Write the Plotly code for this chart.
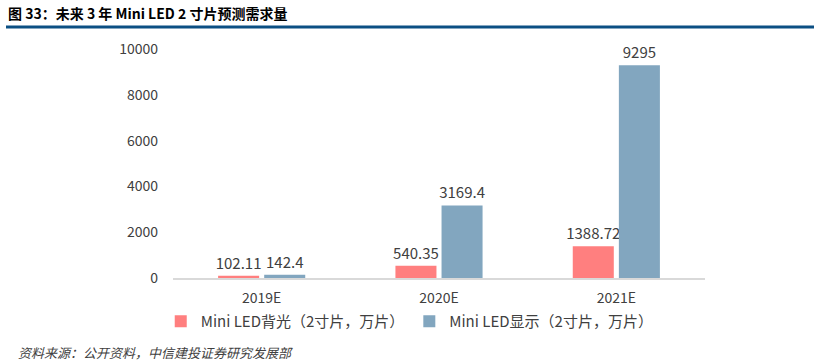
import plotly.graph_objects as go

categories = ["2019E", "2020E", "2021E"]
backlight = [102.11, 540.35, 1388.72]
display = [142.4, 3169.4, 9295]
backlight_labels = ["102.11", "540.35", "1388.72"]
display_labels = ["142.4", "3169.4", "9295"]
y_ticks = [0, 2000, 4000, 6000, 8000, 10000]
y_tick_text = ["0", "2000", "4000", "6000", "8000", "10000"]

FONT = "Noto Sans CJK SC, Open Sans, sans-serif"
TXT = "#404040"

fig = go.Figure()
fig.add_trace(go.Bar(
    x=categories, y=backlight, name="Mini LED背光（2寸片，万片）",
    marker=dict(color="#FF7F7F", line=dict(width=0)),
    text=backlight_labels, textposition="outside", cliponaxis=False,
    textfont=dict(size=15, color=TXT, family=FONT),
))
fig.add_trace(go.Bar(
    x=categories, y=display, name="Mini LED显示（2寸片，万片）",
    marker=dict(color="#82A6BF", line=dict(width=0)),
    text=display_labels, textposition="outside", cliponaxis=False,
    textfont=dict(size=15, color=TXT, family=FONT),
))

fig.update_layout(
    width=814, height=363,
    margin=dict(l=173, r=109, t=49, b=85),
    paper_bgcolor="white", plot_bgcolor="white",
    barmode="group", bargap=0.48, bargroupgap=0.11,
    font=dict(family=FONT, color=TXT, size=14),
    showlegend=True,
    legend=dict(orientation="h", x=0.445, xanchor="center", y=-0.19, yanchor="middle",
                font=dict(size=15, color=TXT, family=FONT),
                itemwidth=30, traceorder="normal"),
    uniformtext=dict(mode="show", minsize=15),
)
fig.update_xaxes(showgrid=False, showline=True, linecolor="#D9D9D9", linewidth=1.5,
                 ticks="", tickfont=dict(size=14, color=TXT), ticklabelstandoff=6)
fig.update_yaxes(range=[0, 10000], tickvals=y_ticks, ticktext=y_tick_text,
                 showgrid=False, zeroline=False,
                 showline=False, ticks="", tickfont=dict(size=14, color=TXT),
                 ticklabelstandoff=14)

fig.add_annotation(xref="paper", yref="paper", x=-167/532, y=1 + (49 - 13) / 229,
                   xanchor="left", yanchor="middle", showarrow=False,
                   text="<b>图 33：未来 3 年 Mini LED 2 寸片预测需求量</b>",
                   font=dict(size=14, color="#000000", family=FONT))
fig.add_shape(type="line", xref="paper", yref="paper",
              x0=-167/532, x1=(814 - 173) / 532,
              y0=1 + (49 - 27) / 229, y1=1 + (49 - 27) / 229,
              line=dict(color="#0B4F83", width=3))
fig.add_annotation(xref="paper", yref="paper", x=-157/532, y=-(352 - 278) / 229,
                   xanchor="left", yanchor="middle", showarrow=False,
                   text="<i>资料来源：公开资料，中信建投证券研究发展部</i>",
                   font=dict(size=13, color="#404040", family=FONT))

fig.write_html("out.html", config={"displayModeBar": False},
               post_script="document.body.style.margin='0';document.body.style.padding='0';")
